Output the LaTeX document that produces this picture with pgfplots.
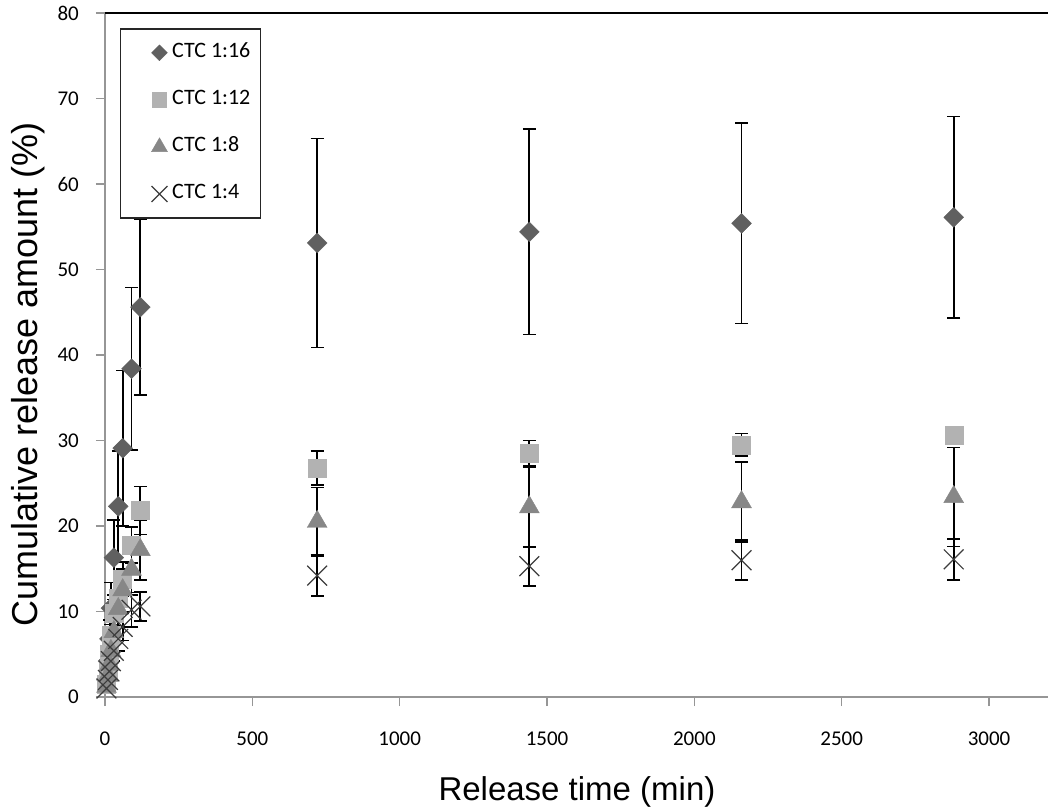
\documentclass[border=0pt]{standalone}
\usepackage{pgfplots}
\pgfplotsset{compat=1.18}
\usepackage{pgfplotstable}
\usepackage{fontspec}
\setmainfont{Carlito}
\newfontfamily\arialf{Liberation Sans}
\definecolor{axisgray}{RGB}{150,150,150}
\definecolor{c16}{RGB}{96,96,96}
\definecolor{c12}{RGB}{178,178,178}
\definecolor{c8}{RGB}{135,135,135}
\definecolor{c4}{RGB}{60,60,60}

\pgfplotstableread{
t v e
5 2.0 0.8
10 4.2 1.5
15 6.8 2.2
20 10.4 3.0
30 16.3 4.4
45 22.3 6.5
60 29.1 9.1
90 38.4 9.5
120 45.6 10.3
720 53.1 12.2
1440 54.4 12.0
2160 55.4 11.7
2880 56.1 11.8
}\dA
\pgfplotstableread{
t v e
5 1.5 0.5
10 3.0 0.8
15 5.0 1.0
20 7.2 1.3
30 9.8 1.6
45 11.6 1.8
60 13.8 2.0
90 17.8 2.1
120 21.8 2.8
720 26.8 2.0
1440 28.5 1.5
2160 29.5 1.3
2880 30.6 1.0
}\dB
\pgfplotstableread{
t v e
5 1.2 0.4
10 2.5 0.8
15 3.8 1.0
20 5.4 1.3
30 7.6 1.5
45 10.3 2.0
60 12.5 2.5
90 14.9 3.0
120 17.2 3.5
720 20.5 4.0
1440 22.2 4.7
2160 22.8 4.7
2880 23.4 5.8
}\dC
\pgfplotstableread{
t v e
5 1.0 0.4
10 2.0 0.6
15 3.0 0.8
20 4.2 1.0
30 5.4 1.2
45 6.8 1.4
60 8.2 1.6
90 10.2 2.0
120 10.6 1.7
720 14.2 2.4
1440 15.3 2.3
2160 16.0 2.35
2880 16.1 2.4
}\dD

\pgfplotsset{
  myerr/.style={error bars/.cd, y dir=both, y explicit,
    error bar style={draw=black, line width=1.8pt},
    error mark options={draw=black, line width=1.6pt, mark size=6.5pt, rotate=90}},
}

\begin{document}
\begin{tikzpicture}
\path[use as bounding box] (-105pt,-111pt) rectangle (943pt,697pt);
\begin{axis}[
  at={(0pt,0pt)}, anchor=south west,
  scale only axis, width=943pt, height=684pt,
  xmin=0, xmax=3200, ymin=0, ymax=80,
  clip=false,
  axis x line*=bottom, axis y line*=left,
  axis line style={axisgray, line width=1.5pt},
  xtick={0,500,...,3000}, ytick={0,10,...,80},
  tick align=outside, tick style={axisgray, line width=1.5pt},
  major tick length=9pt,
  /pgf/number format/assume math mode=true,
  /pgf/number format/set thousands separator={},
  xticklabel style={font=\fontsize{21pt}{25pt}\selectfont, anchor=north, inner sep=0pt, yshift=-26pt},
  yticklabel style={font=\fontsize{21pt}{25pt}\selectfont, anchor=east, inner sep=0pt, xshift=-17pt},
  xlabel={Release time (min)},
  xlabel style={font=\arialf\fontsize{33pt}{40pt}\selectfont, at={(axis description cs:0.5005,-0.1506)}, anchor=base},
  legend style={at={(rel axis cs:0.0159,0.978)}, anchor=north west, draw=black!85, line width=1.5pt,
    font=\fontsize{22pt}{26pt}\selectfont, inner xsep=10pt, inner ysep=15pt, row sep=29pt, column sep=3pt,
    nodes={inner sep=0pt, text height=14pt, text depth=4pt, anchor=west}},
  legend cell align=left,
  legend image code/.code={\path (-28pt,0pt) (9pt,0pt); \draw[#1, every mark/.append style={scale=0.8}] plot coordinates {(0pt,0pt)};},
]
\addplot[only marks, mark=square*, mark size=7pt, mark options={rotate=45, fill=c16, draw=c16, line width=0.4pt}, myerr] table[x=t,y=v,y error=e]{\dA};
\addlegendentry{CTC 1:16}
\addplot[only marks, mark=square*, mark size=9pt, mark options={fill=c12, draw=c12, line width=0.4pt}, myerr] table[x=t,y=v,y error=e]{\dB};
\addlegendentry{CTC 1:12}
\addplot[only marks, mark=triangle*, mark size=11.5pt, mark options={fill=c8, draw=c8, line width=0.4pt}, myerr] table[x=t,y=v,y error=e]{\dC};
\addlegendentry{CTC 1:8}
\addplot[only marks, mark=x, mark size=14pt, mark options={draw=c4, line width=1.2pt}, myerr] table[x=t,y=v,y error=e]{\dD};
\addlegendentry{CTC 1:4}

\draw[black, line width=1.5pt] (rel axis cs:0,1) -- (rel axis cs:1,1);
\node[rotate=90, anchor=base, font=\arialf\fontsize{36pt}{42pt}\selectfont] at (axis description cs:-0.0721,0.471) {Cumulative release amount (\%)};
\end{axis}
\end{tikzpicture}
\end{document}
